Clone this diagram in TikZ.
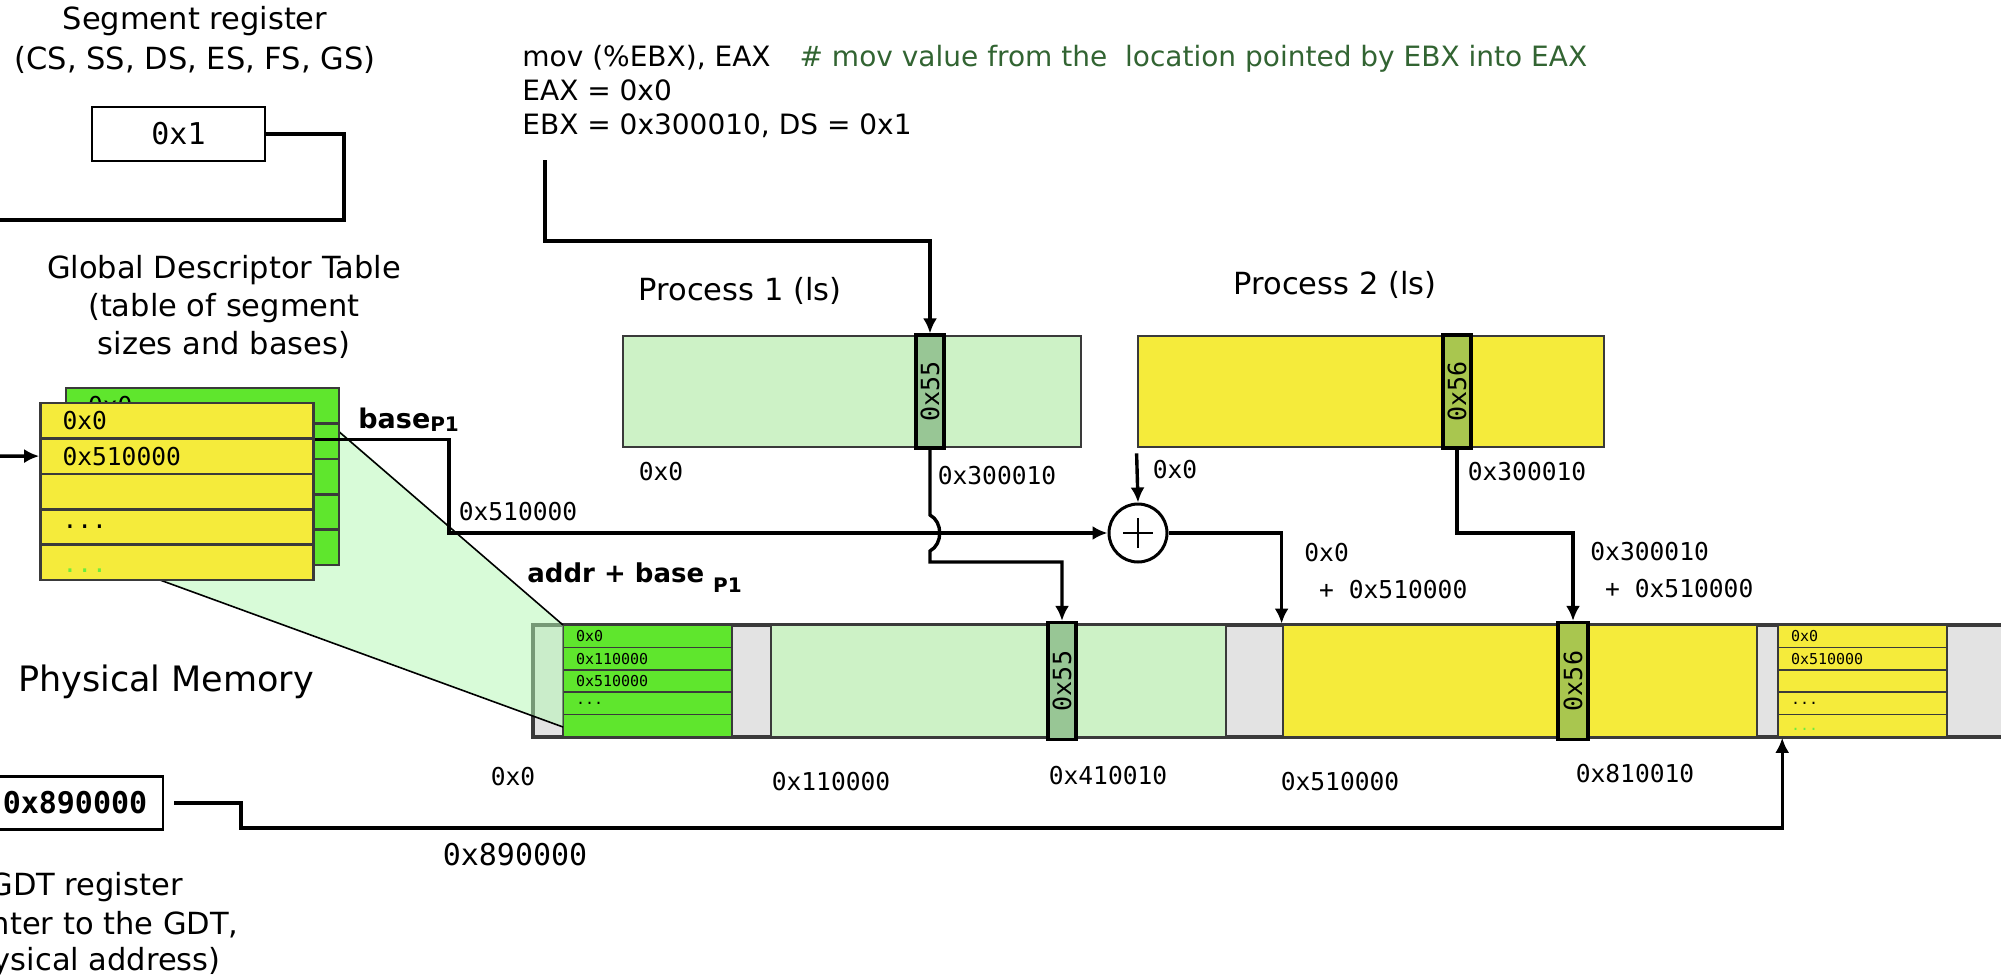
\documentclass[tikz,border=0pt]{standalone}
\usepackage{fontspec}
\setmainfont{DejaVu Sans}
\setmonofont{DejaVu Sans Mono}
\usepackage{graphicx}
\usepackage{xcolor}
\usetikzlibrary{arrows.meta, positioning}
\definecolor{procgreen}{RGB}{205,242,198}
\definecolor{cellgreen}{RGB}{152,198,149}
\definecolor{procyellow}{RGB}{245,235,59}
\definecolor{cellolive}{RGB}{169,198,79}
\definecolor{gdtgreen}{RGB}{95,230,45}
\definecolor{gapgrey}{RGB}{227,227,227}
\definecolor{edgegrey}{RGB}{58,58,58}
\definecolor{commentgreen}{RGB}{50,100,50}
\definecolor{fangreen}{RGB}{178,248,178}
\definecolor{dotgreen}{RGB}{110,235,60}
\newcommand{\txtfont}{\fontsize{15.25}{20}\selectfont}
\newcommand{\hexfont}{\fontsize{12.3}{18.5}\selectfont\ttfamily}
\newcommand{\tinyhex}{\fontsize{7.5}{9}\selectfont\ttfamily}
\newcommand{\cellfont}{\fontsize{12.5}{15}\selectfont\ttfamily}
\newcommand{\regfont}{\fontsize{15}{18}\selectfont\ttfamily}
\newcommand{\threedots}{...}
\tikzset{conn/.style={line width=1.7pt},arrowconn/.style={conn, -{Latex[length=7.5pt, width=7pt]}}}
\tikzset{textlabel/.style={font=\txtfont, align=center, inner sep=0pt},hexlabel/.style={font=\hexfont, inner sep=0pt}}
\tikzset{plusnode/.style={circle, draw=black, line width=1.5pt, minimum size=29pt, inner sep=0pt, fill=white,
    path picture={\draw[line width=1.2pt] ([xshift=-7.5pt]path picture bounding box.center) -- ([xshift=7.5pt]path picture bounding box.center) ([yshift=-7.5pt]path picture bounding box.center) -- ([yshift=7.5pt]path picture bounding box.center);}}}

\begin{document}
\begin{tikzpicture}[
        x=0.5pt, y=-0.5pt,
        line join=miter,
        regbox/.style={draw=black, line width=1.4pt, inner sep=0pt, font=\regfont},
        procbox/.style={draw=edgegrey, line width=1.4pt, inner sep=0pt, minimum height=55.5pt},
        cellbox/.style={draw=black, line width=1.6pt, inner sep=0pt, font=\cellfont},
        gdtrow/.style={draw=edgegrey, line width=1.3pt, minimum height=17.7pt, text width=114.5pt, inner xsep=11pt, inner ysep=0pt, align=left, font=\hexfont},
        memrow/.style={draw=edgegrey, line width=0.8pt, minimum height=11.2pt, text width=71.5pt, inner xsep=6.5pt, inner ysep=0pt, align=left, font=\tinyhex}
    ]
        \path[use as bounding box, clip] (0,0) rectangle (2001,979);
        % Titles
        \node[textlabel] (seglbl) at (195,40) {Segment register\\(CS, SS, DS, ES, FS, GS)};
        \node[textlabel, font=\fontsize{15.25}{19}\selectfont] (gdtlbl) at (224,307) {Global Descriptor Table\\(table of segment\\sizes and bases)};
        \node[textlabel] (p1lbl) at (740,291) {Process 1 (ls)};
        \node[textlabel] (p2lbl) at (1335,285) {Process 2 (ls)};
        \node[textlabel, font=\fontsize{17.5}{21}\selectfont] (physlbl) at (166,682) {Physical Memory};
        \node[textlabel, anchor=east] (reg1) at (183,887) {GDT register};
        \node[textlabel, anchor=east] (reg2) at (239,925) {nter to the GDT,};
        \node[textlabel, anchor=east] (reg3) at (221,962) {ysical address)};
        \node[anchor=west, align=left, inner sep=0pt, font=\fontsize{14}{17}\selectfont] (code) at (522,91) {mov (\%EBX), EAX\hspace{14.5pt}\textcolor{commentgreen}{\# mov value from the\ \ location pointed by EBX into EAX}\\EAX = 0x0\\EBX = 0x300010, DS = 0x1};
        % Registers
        \node[regbox, minimum width=86.5pt, minimum height=27pt] (segreg) at (178.5,134) {0x1};
        \node[regbox, minimum width=88pt, minimum height=26.5pt, font=\regfont\bfseries] (gdtreg) at (75,803) {0x890000};
        \coordinate (segturn) at (344,220);
        \coordinate (segout) at (-10,220);
        \draw[conn] (segreg.east) -| (segturn) -- (segout);
        % Physical memory
        \draw[draw=edgegrey, fill=gapgrey, line width=1.6pt] (533,625) rectangle (2040,737);
        \foreach \i/\txt in {1/0x0, 2/0x110000, 3/0x510000, 4/\threedots, 5/} {
            \node[memrow, fill=gdtgreen] (mg\i) at (647.5, {625+22.4*\i-11.2}) {\txt};
        }
        \foreach \i/\txt in {1/0x0, 2/0x510000, 3/, 4/\threedots, 5/\smash{\raisebox{-2.5pt}{\textcolor{dotgreen}{\threedots}}}} {
            \node[memrow, fill=procyellow] (my\i) at (1862.5, {625+22.4*\i-11.2}) {\txt};
        }
        \node[procbox, fill=procgreen, minimum width=227.5pt, minimum height=56pt] (p1seg) at (998.5,681) {};
        \node[cellbox, fill=cellgreen, minimum width=14pt, minimum height=58.5pt] (b55) at (1062,681) {\rotatebox{90}{0x55}};
        \node[procbox, fill=procyellow, minimum width=237pt, minimum height=56pt] (p2seg) at (1520,681) {};
        \node[cellbox, fill=cellolive, minimum width=15pt, minimum height=58.5pt] (b56) at (1573,681) {\rotatebox{90}{0x56}};
        % Fan from the table to its copy in memory
        \fill[fangreen, fill opacity=0.5] (339,430) -- (563,625) -- (563,727) -- (160,580) -- cycle;
        \draw[line width=0.8pt] (337,430) -- (563,625);
        \draw[line width=0.8pt] (160,580) -- (563,727);
        % Descriptor table
        \foreach \i/\txt in {1/0x0, 2/, 3/, 4/, 5/} {
            \node[gdtrow, fill=gdtgreen] (gg\i) at (202.5, {388+35.4*\i-17.7}) {\txt};
        }
        \foreach \i/\txt in {1/0x0, 2/0x510000, 3/, 4/\threedots, 5/\smash{\raisebox{-5pt}{\textcolor{dotgreen}{\threedots}}}} {
            \node[gdtrow, fill=procyellow] (gy\i) at (177, {403+35.4*\i-17.7}) {\txt};
        }
        \coordinate (gdtin) at (-10,456.1);
        \draw[arrowconn] (gdtin) -- (gy2.west);
        % Processes
        \node[procbox, fill=procgreen, minimum width=229pt] (p1box) at (852,391.5) {};
        \node[cellbox, fill=cellgreen, minimum width=14pt, minimum height=56.5pt] (p1cell) at (930,391.5) {\rotatebox{90}{0x55}};
        \node[procbox, fill=procyellow, minimum width=233pt] (p2box) at (1371,391.5) {};
        \node[cellbox, fill=cellolive, minimum width=14pt, minimum height=56.5pt] (p2cell) at (1457,391.5) {\rotatebox{90}{0x56}};
        \node[plusnode] (plus) at (1138,533) {};
        % Connectors
        \coordinate (codeout) at (545,160);
        \coordinate (codeturn) at (545,241);
        \draw[arrowconn] (codeout) -- (codeturn) -| (p1cell.north);
        \coordinate (baseturn) at (449,533);
        \draw[arrowconn] (gy1.south east) -| (baseturn) -- (plus.west);
        \coordinate (hoptop) at (930,515);
        \coordinate (hopbot) at (930,551);
        \coordinate (p1turn) at (930,562);
        \draw[arrowconn] (p1cell.south) -- (hoptop) .. controls +(13,7) and +(13,-7) .. (hopbot) -- (p1turn) -| (b55.north);
        \draw[arrowconn] ([yshift=-2.5pt]p2box.south west) -- (plus.north);
        \draw[arrowconn] (plus.east) -| (p2seg.north west);
        \coordinate (p2turn) at (1457,533);
        \draw[arrowconn] (p2cell.south) -- (p2turn) -| (b56.north);
        \coordinate (regturn) at (241,828);
        \draw[arrowconn] ([xshift=5pt]gdtreg.east) -| (regturn) -| ([xshift=2.5pt]my5.south west);
        % Labels
        \node[anchor=west, inner sep=0pt, font=\fontsize{13.5}{16}\selectfont\bfseries] (baselbl) at (358,420) {base\raisebox{-1.5pt}{\fontsize{10}{12}\selectfont P1}};
        \node[anchor=west, inner sep=0pt, font=\fontsize{13}{16}\selectfont\bfseries] (addrlbl) at (527,578) {addr + base \raisebox{-5pt}{\fontsize{10}{12}\selectfont P1}};
        \node[hexlabel] (l510) at (518,512) {0x510000};
        \node[hexlabel] (p1zero) at (661,472) {0x0};
        \node[hexlabel] (p1off) at (997,476) {0x300010};
        \node[hexlabel] (p2zero) at (1175,470) {0x0};
        \node[hexlabel] (p2off) at (1527,472) {0x300010};
        \node[hexlabel, anchor=west, align=left] (sum1) at (1304,571) {0x0\\\phantom{0}+ 0x510000};
        \node[hexlabel, anchor=west, align=left] (sum2) at (1590,570) {0x300010\\\phantom{0}+ 0x510000};
        \node[hexlabel] (m0) at (513,777) {0x0};
        \node[hexlabel] (m110) at (831,782) {0x110000};
        \node[hexlabel] (m410) at (1108,776) {0x410010};
        \node[hexlabel] (m510) at (1340,782) {0x510000};
        \node[hexlabel] (m810) at (1635,774) {0x810010};
        \node[hexlabel, font=\regfont] (m890) at (515,855) {0x890000};
    \end{tikzpicture}
\end{document}
